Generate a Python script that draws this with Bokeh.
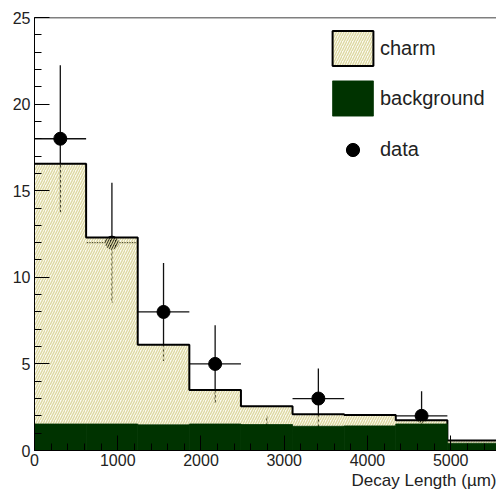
import numpy as np
from bokeh.plotting import figure
from bokeh.models import (Range1d, Span, Legend, LegendItem, Title,
                          SingleIntervalTicker, ColumnDataSource)
from bokeh.embed import file_html
from bokeh.resources import INLINE

# ---- data ----
bin_edges = [0, 620, 1240, 1860, 2480, 3100, 3720, 4340, 4960, 5580]
background = [1.53, 1.53, 1.48, 1.53, 1.50, 1.40, 1.42, 1.53, 0.42]
charm = [15.02, 10.77, 4.62, 1.97, 1.05, 0.70, 0.63, 0.22, 0.16]
data_counts = [18, 12, 8, 5, 1, 3, 0, 2, 0]
legend_labels = ["charm", "background", "data"]
x_title = "Decay Length (\u00b5m)"

X_END = 5550
Y_END = 25

edges = np.array(bin_edges, dtype=float)
left = edges[:-1]
right = edges[1:]
centers = (left + right) / 2
bg = np.array(background)
total = bg + np.array(charm)
counts = np.array(data_counts, dtype=float)
err = np.sqrt(counts)
m = counts > 0

FONT = "Liberation Sans"
TXT = "#222222"

p = figure(width=496, height=489,
           x_range=Range1d(0, X_END), y_range=Range1d(0, Y_END),
           output_backend="svg", toolbar_location=None,
           min_border_left=34, min_border_right=0,
           min_border_top=17, min_border_bottom=36)
p.xgrid.visible = False
p.ygrid.visible = False
p.outline_line_color = None
p.background_fill_color = "white"

for ax, tick in ((p.yaxis[0], SingleIntervalTicker(interval=5, num_minor_ticks=5)),
                 (p.xaxis[0], SingleIntervalTicker(interval=1000, num_minor_ticks=5))):
    ax.ticker = tick
    ax.major_tick_in = 15
    ax.major_tick_out = 0
    ax.minor_tick_in = 7
    ax.minor_tick_out = 0
    ax.axis_line_color = "black"
    ax.major_tick_line_color = "black"
    ax.minor_tick_line_color = "black"
    ax.major_label_text_font = FONT
    ax.major_label_text_font_size = "16px"
    ax.major_label_text_color = TXT
p.yaxis.major_label_standoff = 4
p.xaxis.major_label_standoff = 3

# data points with error bars (drawn first, covered by the stack)
p.segment(x0=centers[m], y0=(counts - err)[m], x1=centers[m], y1=(counts + err)[m],
          line_color="#111111", line_width=1.3)
p.segment(x0=left[m], y0=counts[m], x1=right[m], y1=counts[m],
          line_color="#111111", line_width=1.3)
pts = p.scatter(centers[m], counts[m], size=13, color="black")

# charm (hatched) on top of background
hatch_kw = dict(fill_color="#efe9b4", fill_alpha=0.17, hatch_pattern="/",
                hatch_color="#ddd8a2", hatch_alpha=1.0, hatch_scale=5, hatch_weight=1.4)
charm_src = ColumnDataSource(dict(left=left, right=right, bottom=bg, top=total))
p.quad(left="left", right="right", bottom="bottom", top="top", source=charm_src,
       line_color=None, **hatch_kw)
p.step(x=edges, y=np.append(total, total[-1]), mode="after",
       line_color="black", line_width=2)

green = p.quad(left=left, right=right, bottom=0, top=bg,
               fill_color="#003300", line_color="#003300", line_width=0.8)

# legend-only renderer (hidden, used only for the legend key)
charm_key = p.quad(left="left", right="right", bottom="bottom", top="top",
                   source=charm_src, line_color="black", line_width=2, **hatch_kw)
charm_key.visible = False

p.add_layout(Span(location=Y_END, dimension="width", line_color="black", line_width=1.5))

leg_common = dict(label_standoff=2, padding=5, margin=0,
                  border_line_color=None, background_fill_color="white",
                  background_fill_alpha=1.0, click_policy="none",
                  label_text_font=FONT, label_text_font_size="20px",
                  label_text_color=TXT, inactive_fill_alpha=0.0)
legend1 = Legend(items=[LegendItem(label=legend_labels[0], renderers=[charm_key]),
                        LegendItem(label=legend_labels[1], renderers=[green])],
                 location=(293, 330), glyph_width=51, glyph_height=44,
                 spacing=6, **leg_common)
legend2 = Legend(items=[LegendItem(label=legend_labels[2], renderers=[pts])],
                 location=(293, 284), glyph_width=51, glyph_height=33,
                 spacing=0, **leg_common)
p.add_layout(legend1)
p.add_layout(legend2)

p.add_layout(Title(text=x_title, align="right", text_font=FONT,
                   text_font_size="17px", text_font_style="normal",
                   text_color=TXT, standoff=0, offset=0), "below")

open("out.html", "w").write(file_html(p, INLINE))
